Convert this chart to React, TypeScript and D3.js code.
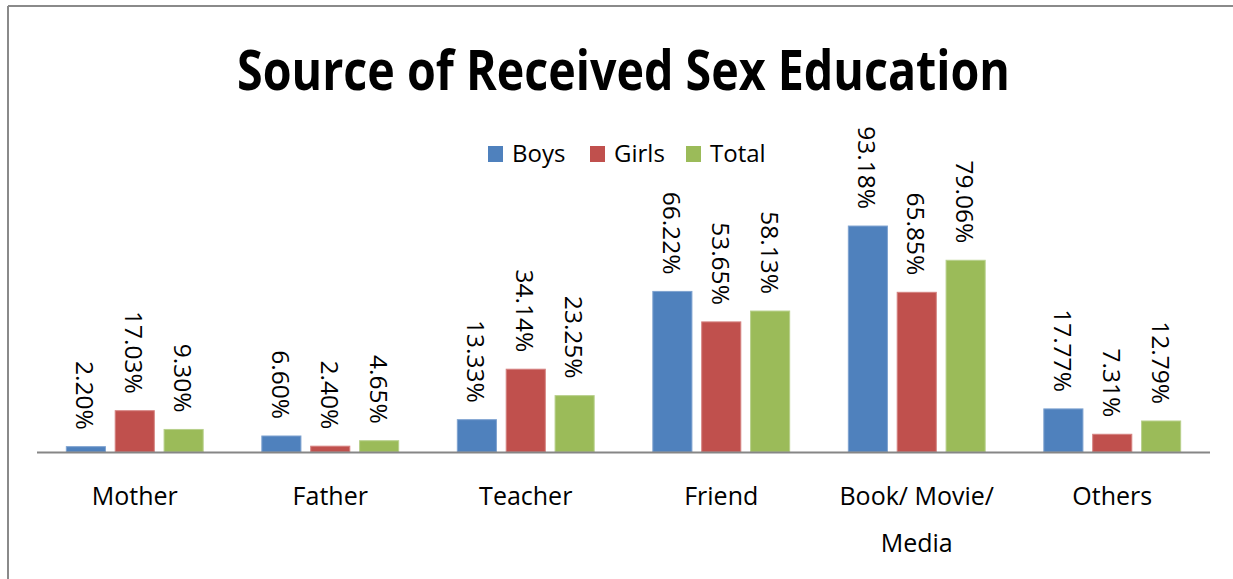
import React from "react";
import * as d3 from "d3";

const categories = ["Mother", "Father", "Teacher", "Friend", "Book/ Movie/ Media", "Others"];
const categoryLines = [["Mother"], ["Father"], ["Teacher"], ["Friend"], ["Book/ Movie/", "Media"], ["Others"]];
const seriesNames = ["Boys", "Girls", "Total"];
const boys = [2.2, 6.6, 13.33, 66.22, 93.18, 17.77];
const girls = [17.03, 2.4, 34.14, 53.65, 65.85, 7.31];
const total = [9.3, 4.65, 23.25, 58.13, 79.06, 12.79];
const seriesColors = ["#4F81BD", "#C0504D", "#9BBB59"];
const seriesStroke = ["#7FA3D0", "#D58280", "#B8D08C"];

const W = 1233;
const H = 579;
const FONT = "'Open Sans', 'Noto Sans', sans-serif";

export default function App() {
  const seriesValues = [boys, girls, total];
  const x0 = d3.scaleBand<string>().domain(categories).range([37, 1210]).paddingInner(0).paddingOuter(0);
  const x1 = d3.scaleBand<string>().domain(seriesNames).range([0, x0.bandwidth()]).paddingInner(0.2).paddingOuter(0.6);
  const y = d3.scaleLinear().domain([0, 100]).range([452, 209.5]);

  const legendX = [488, 590, 686];

  return (
    <svg width={W} height={H} style={{ position: "absolute", left: 0, top: 0, background: "#fff" }} fontFamily={FONT}>
      <rect x={0} y={0} width={W} height={H} fill="#fff" />
      {/* frame */}
      <line x1={8} y1={6} x2={W} y2={6} stroke="#8a8a8a" strokeWidth={2} />
      <line x1={8} y1={6} x2={8} y2={H} stroke="#8a8a8a" strokeWidth={2} />
      {/* title */}
      <text x={237} y={90} fontSize={56} fontWeight={700} fill="#000" textLength={773} lengthAdjust="spacingAndGlyphs">
        Source of Received Sex Education
      </text>
      {/* legend */}
      {seriesNames.map((s, i) => (
        <g key={s}>
          <rect x={legendX[i]} y={146} width={15} height={16} fill={seriesColors[i]} />
          <text x={legendX[i] + 24} y={162} fontSize={24} fill="#000">{s}</text>
        </g>
      ))}
      {/* bars */}
      {categories.map((c, ci) => (
        <g key={c} transform={`translate(${x0(c)},0)`}>
          {seriesNames.map((s, si) => {
            const v = seriesValues[si][ci];
            const bx = x1(s)!;
            const bw = x1.bandwidth();
            const top = y(v);
            const cx = bx + bw / 2;
            return (
              <g key={s}>
                <rect x={bx} y={top} width={bw} height={y(0) - top} fill={seriesColors[si]} stroke={seriesStroke[si]} strokeWidth={1} />
                <text
                  transform={`translate(${cx},${top - 17}) rotate(90)`}
                  textAnchor="end"
                  dominantBaseline="central"
                  fontSize={24.5}
                  fill="#000"
                >
                  {v.toFixed(2)}%
                </text>
              </g>
            );
          })}
        </g>
      ))}
      {/* axis */}
      <line x1={37} y1={452.5} x2={1210} y2={452.5} stroke="#868686" strokeWidth={2} />
      {categories.map((c, ci) => (
        <text key={c} x={x0(c)! + x0.bandwidth() / 2} y={505} textAnchor="middle" fontSize={25} fill="#000">
          {categoryLines[ci].map((ln, li) => (
            <tspan key={li} x={x0(c)! + x0.bandwidth() / 2} dy={li === 0 ? 0 : 47}>{ln}</tspan>
          ))}
        </text>
      ))}
    </svg>
  );
}
